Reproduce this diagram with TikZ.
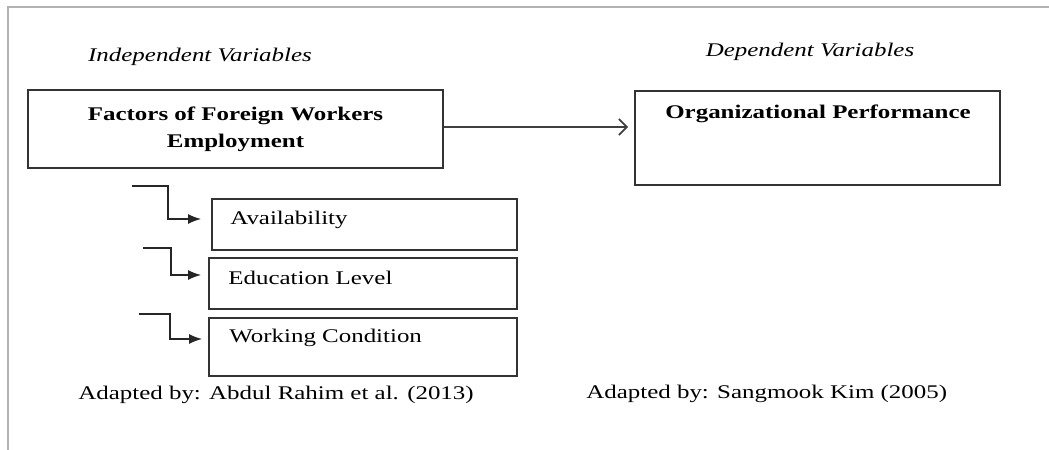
\documentclass[tikz,border=0pt]{standalone}
\usepackage{fontspec}
\setmainfont{Liberation Serif}[FakeStretch=1.29]
\usetikzlibrary{arrows.meta}

\begin{document}
\begin{tikzpicture}[x=0.02cm, y=-0.02cm,
        box/.style={draw=black!80, line width=0.95pt, inner sep=0pt},
        txt/.style={font=\fontsize{11}{15.5}\selectfont, inner sep=0pt},
        head/.style={font=\fontsize{11}{15.5}\selectfont\bfseries, inner sep=0pt},
        feed/.style={draw=black!85, line width=1pt, -{Latex[length=0.26cm, width=0.2cm]}},
        lead/.style={draw=black!75, line width=1pt, -{Straight Barb[length=0.16cm, width=0.32cm]}}]
    \useasboundingbox (0,0) rectangle (1049,450);
    \draw [black!30, line width=1.2pt] (1049,7) -- (8,7) -- (8,450);

    % headings
    \node [txt, font=\fontsize{11}{15.5}\selectfont\itshape] (indep) at (200,57) {Independent Variables};
    \node [txt, font=\fontsize{11}{15.5}\selectfont\itshape] (dep) at (810,52) {Dependent Variables};

    % main boxes
    \node [box, head, align=center, minimum width=8.3cm, minimum height=1.56cm] (factors) at (235.5,129) {Factors of Foreign Workers\\Employment};
    \node [box, minimum width=7.3cm, minimum height=1.88cm] (org) at (817.5,138) {};
    \node [head] (orgtxt) at (818,114) {Organizational Performance};
    \draw [lead, shorten >=0.12cm] (factors.east |- 0,127) -- (org.west |- 0,127);

    % factor boxes
    \node [box, minimum width=6.1cm, minimum height=1.02cm] (avail) at (364.5,224.5) {};
    \node [box, minimum width=6.16cm, minimum height=1.02cm] (edu) at (363,283.5) {};
    \node [box, minimum width=6.16cm, minimum height=1.16cm] (work) at (363,347) {};
    \node [txt, anchor=west] (availtxt) at (230,220) {Availability};
    \node [txt, anchor=west] (edutxt) at (228,278) {Education Level};
    \node [txt, anchor=west] (worktxt) at (229,338) {Working Condition};

    % feeders
    \coordinate (s1) at (132,186);
    \coordinate (s2) at (143,248);
    \coordinate (s3) at (139,314);
    \draw [feed, shorten >=0.2cm] (s1) -- (168,186) |- (avail.west |- 0,219);
    \draw [feed, shorten >=0.14cm] (s2) -- (171,248) |- (edu.west |- 0,275);
    \draw [feed, shorten >=0.12cm] (s3) -- (170,314) |- (work.west |- 0,339);

    % sources
    \node [txt, anchor=west] (src1) at (78,395) {Adapted by: Abdul Rahim et al. (2013)};
    \node [txt, anchor=west] (src2) at (586,394) {Adapted by: Sangmook Kim (2005)};
\end{tikzpicture}
\end{document}
